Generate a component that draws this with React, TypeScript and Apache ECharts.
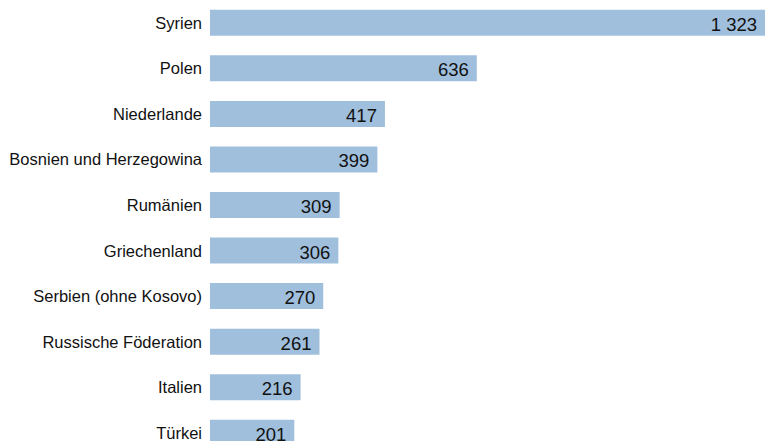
import React, { useEffect, useRef } from "react";
import * as echarts from "echarts";

const categories: string[] = [
  "Syrien",
  "Polen",
  "Niederlande",
  "Bosnien und Herzegowina",
  "Rumänien",
  "Griechenland",
  "Serbien (ohne Kosovo)",
  "Russische Föderation",
  "Italien",
  "Türkei",
];

const values: number[] = [1323, 636, 417, 399, 309, 306, 270, 261, 216, 201];

const fmt = (v: number): string =>
  String(v).replace(/\B(?=(\d{3})+(?!\d))/g, " ");

export default function App() {
  const ref = useRef<HTMLDivElement | null>(null);

  useEffect(() => {
    if (!ref.current) return;
    const chart = echarts.init(ref.current, undefined, { renderer: "svg" });
    chart.setOption({
      animation: false,
      backgroundColor: "#ffffff",
      grid: { left: 210, right: 0, top: 0, height: 455.5, containLabel: false },
      xAxis: {
        type: "value",
        min: 0,
        max: 1323,
        show: false,
      },
      yAxis: {
        type: "category",
        data: categories,
        inverse: true,
        axisLine: { show: false },
        axisTick: { show: false },
        splitLine: { show: false },
        axisLabel: {
          margin: 8,
          color: "#111111",
          fontSize: 16.5,
          fontFamily: "Liberation Sans, Arial, sans-serif",
        },
      },
      series: [
        {
          type: "bar",
          data: values,
          barWidth: 26,
          itemStyle: { color: "#a0bfdc" },
          label: {
            show: true,
            position: "insideRight",
            distance: 8,
            offset: [0, 1.5],
            color: "#111111",
            fontSize: 18.5,
            fontFamily: "Liberation Sans, Arial, sans-serif",
            formatter: (p: any) => fmt(p.value),
          },
        },
      ],
    });
    return () => chart.dispose();
  }, []);

  return (
    <div
      ref={ref}
      style={{ position: "absolute", left: 0, top: 0, width: 765, height: 458 }}
    />
  );
}
